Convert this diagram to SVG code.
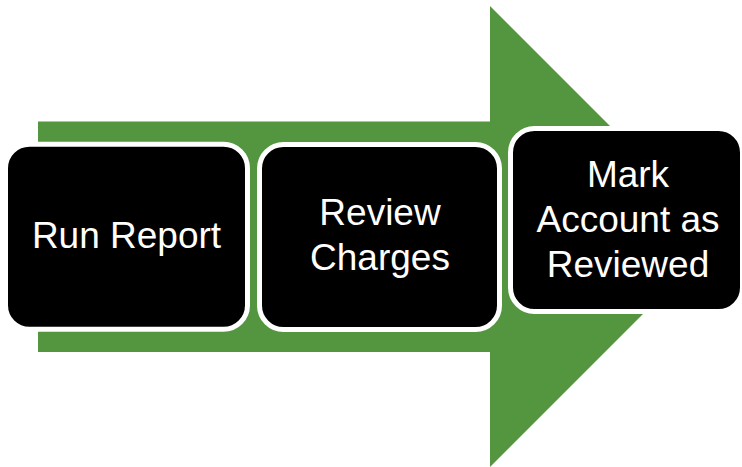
<svg xmlns="http://www.w3.org/2000/svg" width="742" height="467" viewBox="0 0 742 467">
<style>
.box{fill:#000;stroke:#fff;stroke-width:5}
.lbl{font-family:"Liberation Sans",Arial,sans-serif;font-size:37px;fill:#fff;text-anchor:middle}
</style>
<rect width="742" height="467" fill="#fff"/>
<g id="arrow">
<polygon points="38,121.5 490,121.5 490,6 720.5,236.5 490,467 490,352 38,352" fill="#53963F"/>
</g>
<g id="node-run-report">
<rect class="box" x="5.5" y="144.2" width="242" height="185" rx="24"/>
<text class="lbl" x="126.5" y="248">Run Report</text>
</g>
<g id="node-review-charges">
<rect class="box" x="259.5" y="144.5" width="240" height="185" rx="24"/>
<text class="lbl" x="380" y="225">Review</text>
<text class="lbl" x="380" y="270">Charges</text>
</g>
<g id="node-mark-account">
<rect class="box" x="510.5" y="128.5" width="232" height="183" rx="24"/>
<text class="lbl" x="628" y="187">Mark</text>
<text class="lbl" x="628" y="232">Account as</text>
<text class="lbl" x="628" y="277">Reviewed</text>
</g>
</svg>
